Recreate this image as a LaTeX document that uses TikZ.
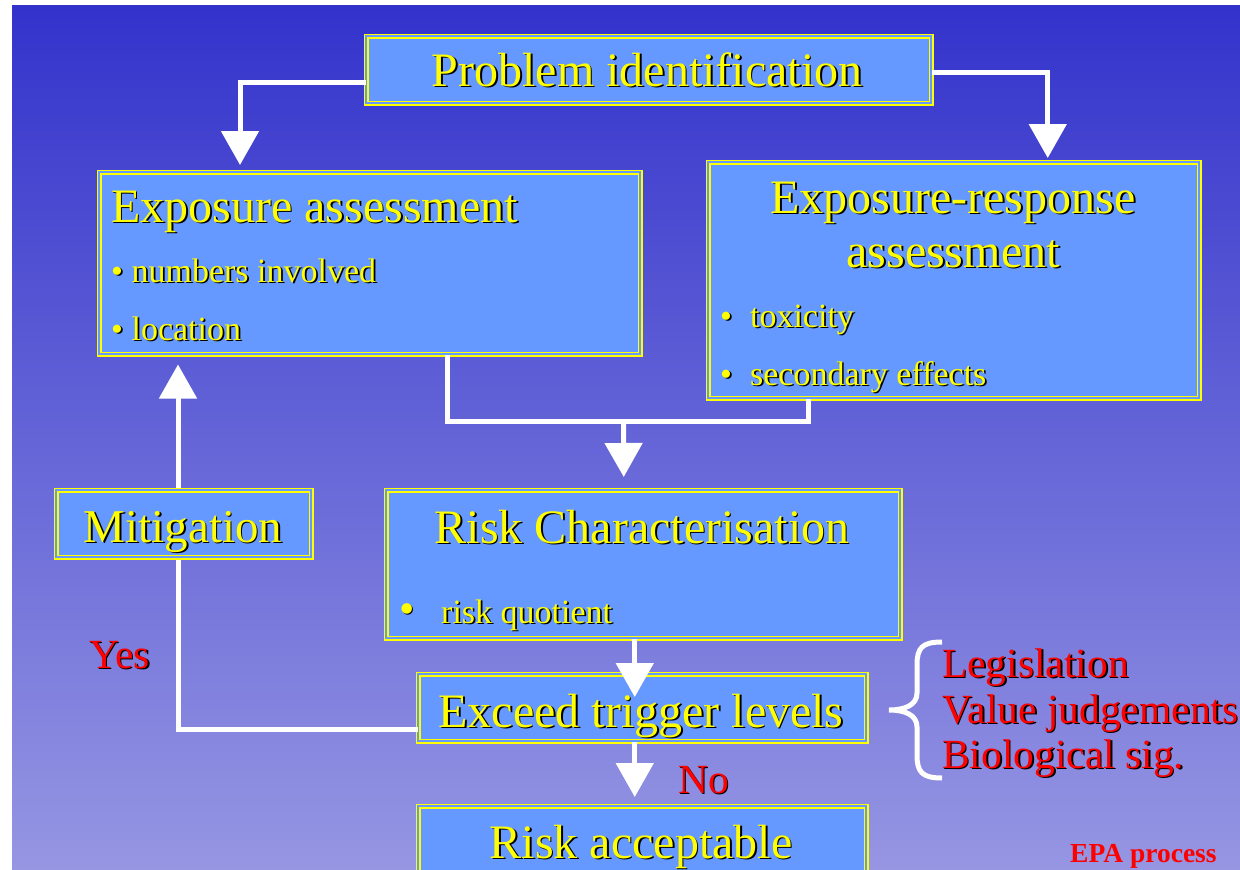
\documentclass[tikz,border=0pt]{standalone}
\usepackage{fontspec}
\setmainfont{Liberation Serif}
\usetikzlibrary{arrows.meta,calc}
\definecolor{bgtop}{HTML}{3333CC}
\definecolor{bgbot}{HTML}{9696E3}
\definecolor{boxfill}{HTML}{6699FF}
\definecolor{ylw}{HTML}{FFFF00}
\definecolor{redt}{HTML}{FF0000}
\newcommand\sh[1]{\leavevmode\rlap{\kern1.7pt\raisebox{-1.7pt}{\color{black}#1}}#1}
\newcommand\fT{\fontsize{48}{54}\selectfont}
\newcommand\fM{\fontsize{47}{54}\selectfont}
\newcommand\fB{\fontsize{34}{40}\selectfont}
\newcommand\fR{\fontsize{41.5}{46}\selectfont}
\newcommand\fE{\fontsize{27.5}{30}\selectfont\bfseries}
\begin{document}
\begin{tikzpicture}[x=1pt,y=-1pt,
  box/.style={rectangle, draw=ylw, line width=1.5pt, double=boxfill, double distance=2pt,
    fill=boxfill, inner sep=0pt, anchor=north west},
  conn/.style={draw=white, line width=5pt, line join=miter},
  arr/.style={conn, -{Triangle[width=37pt,length=34pt]}},
  ttl/.style={text=ylw, inner sep=0pt, font=\fT},
  mtl/.style={text=ylw, inner sep=0pt, font=\fM},
  bul/.style={text=ylw, inner sep=0pt, font=\fB, anchor=base west},
  red/.style={text=redt, inner sep=0pt, font=\fR},
  epa/.style={text=redt, inner sep=0pt, font=\fE},
  brace/.style={draw=white, line width=5pt}
]
\useasboundingbox (0,0) rectangle (1240,870);
\clip (0,0) rectangle (1240,870);
\fill[white] (0,0) rectangle (1240,870);
\shade[top color=bgtop, bottom color=bgbot] (12,5) rectangle (1240,870);

% boxes
\node[box, minimum width=565pt, minimum height=67pt] (pi) at (365.5,35.5) {};
\node[box, minimum width=541pt, minimum height=182pt] (ea) at (98.5,171.5) {};
\node[box, minimum width=491pt, minimum height=236pt] (er) at (707.5,161.5) {};
\node[box, minimum width=514pt, minimum height=148pt] (rc) at (385.5,489.5) {};
\node[box, minimum width=448pt, minimum height=67pt] (et) at (417.5,673.5) {};
\node[box, minimum width=448pt, minimum height=80pt] (ra) at (417.5,805.5) {};

% connectors
\draw[arr] ($(pi.west)+(0,13)$) -| ($(ea.north west)+(141.5,-6.5)$);
\draw[arr] ($(pi.east)+(0,3)$) -| ($(er.north)+(94,-3.5)$);
\coordinate (join) at ($(ea.south west)+(525,66.5)$);
\draw[conn] ($(ea.south west)+(348.5,0)$) |- (join) -| ($(er.south west)+(100.5,0)$);
\draw[arr] (join) -- ($(rc.north)+(-19.5,-12.5)$);
\draw[arr] ($(rc.south)+(-8.5,0)$) -- ($(et.north)+(-7.5,23.5)$);
\draw[arr] ($(et.south)+(-7.5,0)$) -- ($(ra.north)+(-7.5,-8.5)$);
\draw[arr] ($(et.west)+(0,22)$) -| ($(ea.south west)+(79.5,9.5)$);

\node[box, minimum width=255pt, minimum height=67pt] (mit) at (55.5,489.5) {};

% brace
\draw[brace] (942,642) .. controls (922,642) and (917,648) .. (917,665)
  -- (917,693) .. controls (917,705) and (905,710) .. (889,710)
  .. controls (905,710) and (917,715) .. (917,727)
  -- (917,755) .. controls (917,772) and (922,778) .. (942,778);

% texts
\node[ttl, anchor=base] (tpi) at (647,86) {\sh{Problem identification}};
\node[ttl, anchor=base west] (tea) at (111,222) {\sh{Exposure assessment}};
\node[bul] (b1) at (111,282) {\sh{• numbers involved}};
\node[bul] (b2) at (111,340) {\sh{• location}};
\node[ttl, anchor=base] (ter1) at (953,213) {\sh{Exposure-response}};
\node[ttl, anchor=base] (ter2) at (953,267) {\sh{assessment}};
\node[bul] (b3) at (720,327) {\sh{•\hspace{18pt}toxicity}};
\node[bul] (b4) at (720,385) {\sh{•\hspace{18pt}secondary effects}};
\node[ttl, anchor=base] (trc) at (642,543) {\sh{Risk Characterisation}};
\node[bul] (b5) at (399,623) {\sh{{\fontsize{44}{50}\selectfont •}\hspace{26.6pt}risk quotient}};
\node[mtl, anchor=base] (tmit) at (183,542) {\sh{Mitigation}};
\node[ttl, anchor=base] (tet) at (641,727) {\sh{Exceed trigger levels}};
\node[ttl, anchor=base] (tra) at (641,858) {\sh{Risk acceptable}};

\node[red, anchor=base west] (yes) at (89,668) {\sh{Yes}};
\node[red, anchor=base west] (no) at (678,793) {\sh{No}};
\node[red, anchor=base west] (l1) at (942,677) {\sh{Legislation}};
\node[red, anchor=base west] (l2) at (942,723) {\sh{Value judgements}};
\node[red, anchor=base west] (l3) at (942,768) {\sh{Biological sig.}};
\node[epa, anchor=base west] (epa) at (1070,862) {EPA process};
\end{tikzpicture}
\end{document}
